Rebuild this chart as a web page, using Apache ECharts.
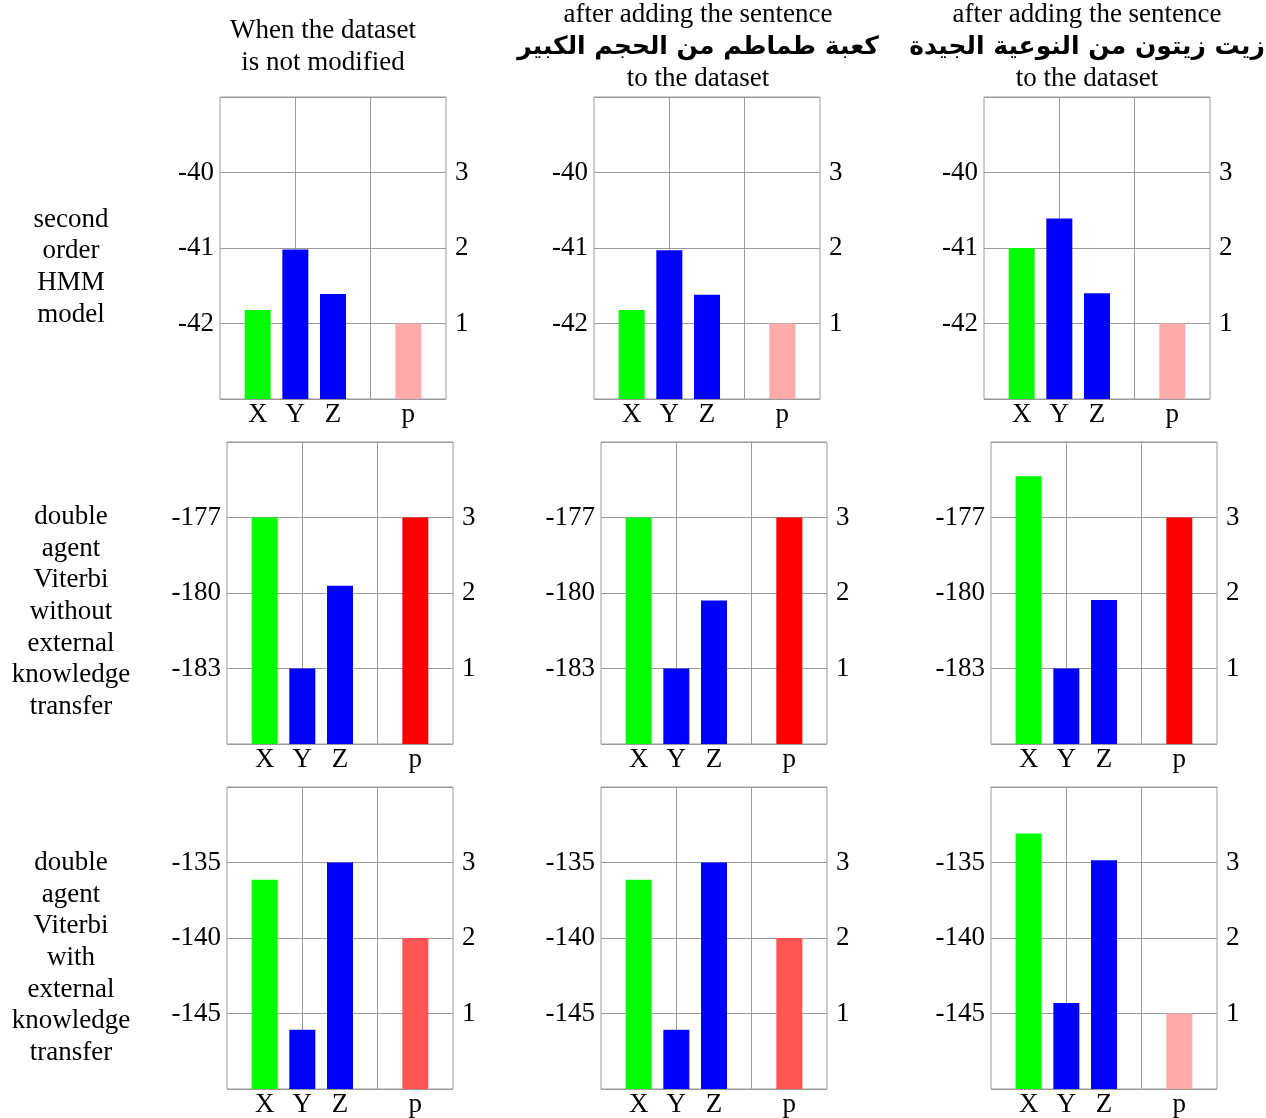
<!DOCTYPE html>
<html><head><meta charset="utf-8">
<script src="https://cdn.jsdelivr.net/npm/echarts@6/dist/echarts.min.js"></script>
<style>html,body{margin:0;padding:0;background:#fff}#c{width:1266px;height:1118px}</style>
</head><body><div id="c"></div>
<script>
// ---- data ----
const categories = ['', 'X', 'Y', 'Z', '', 'p', ''];
const columnTitlesTop = ['When the dataset', 'after adding the sentence', 'after adding the sentence'];
const columnTitlesArabic = ['', 'كعبة طماطم من الحجم الكبير', 'زيت زيتون من النوعية الجيدة'];
const columnTitlesBottom = ['is not modified', 'to the dataset', 'to the dataset'];
const rowLabels = [
  'second\norder\nHMM\nmodel',
  'double\nagent\nViterbi\nwithout\nexternal\nknowledge\ntransfer',
  'double\nagent\nViterbi\nwith\nexternal\nknowledge\ntransfer'
];
// scores [X, Y, Z] for each column
const hmmScores = [[-41.82, -41.02, -41.61], [-41.82, -41.03, -41.62], [-41.00, -40.61, -41.60]];
const hmmP = [1, 1, 1];
const viterbiScores = [[-177, -183, -179.71], [-177, -183, -180.30], [-175.36, -183, -180.28]];
const viterbiP = [3, 3, 3];
const transferScores = [[-136.15, -146.08, -135], [-136.15, -146.08, -135], [-133.08, -144.30, -134.85]];
const transferP = [2, 2, 1];
// axis ranges [min, max, step]
const scoreAxis = [[-43, -39, 1], [-186, -174, 3], [-150, -130, 5]];
const pAxis = [0, 4, 1];

// ---- styles / layout ----
const rowScores = [hmmScores, viterbiScores, transferScores];
const rowP = [hmmP, viterbiP, transferP];
const gridLefts = [[220, 594, 984], [227, 601, 991], [227, 601, 991]];
const gridTops = [97, 442, 787];
const GW = 226, GH = 302;
const FONT = 'Liberation Serif';
const FS = 27;
const GRID_COLOR = '#9a9a9a';
const barColors = {X: '#00ff00', Y: '#0000ff', Z: '#0000ff'};
const pColors = {1: '#ffaaaa', 2: '#ff5555', 3: '#ff0000'};
const titleCenters = [323, 698, 1087];

const grid = [], xAxis = [], yAxis = [], series = [], graphic = [];
for (let r = 0; r < 3; r++) {
  for (let c = 0; c < 3; c++) {
    const idx = r * 3 + c;
    const [mn, mx, st] = scoreAxis[r];
    grid.push({left: gridLefts[r][c], top: gridTops[r], width: GW, height: GH, show: true,
      borderColor: GRID_COLOR, borderWidth: 1, backgroundColor: 'transparent'});
    xAxis.push({type: 'category', gridIndex: idx, data: categories, boundaryGap: false,
      axisLine: {show: false}, axisTick: {show: false},
      axisLabel: {interval: 0, color: '#000', fontFamily: FONT, fontSize: FS, margin: 2},
      splitLine: {show: true, interval: (i) => i === 2 || i === 4, lineStyle: {color: GRID_COLOR, width: 1}}});
    yAxis.push({type: 'value', gridIndex: idx, position: 'left', min: mn, max: mx, interval: st, startValue: mn,
      axisLine: {show: false}, axisTick: {show: false},
      axisLabel: {showMinLabel: false, showMaxLabel: false, color: '#000', fontFamily: FONT, fontSize: FS, margin: 6, padding: [3, 0, 0, 0]},
      splitLine: {show: true, lineStyle: {color: GRID_COLOR, width: 1}}});
    yAxis.push({type: 'value', gridIndex: idx, position: 'right', min: pAxis[0], max: pAxis[1], interval: pAxis[2],
      axisLine: {show: false}, axisTick: {show: false},
      axisLabel: {showMinLabel: false, showMaxLabel: false, color: '#000', fontFamily: FONT, fontSize: FS, margin: 9, padding: [3, 0, 0, 0]},
      splitLine: {show: false}});
    const sc = rowScores[r][c];
    const scoreData = categories.map(k => {
      const j = ['X', 'Y', 'Z'].indexOf(k);
      return j < 0 ? '-' : {value: sc[j], itemStyle: {color: barColors[k]}};
    });
    const pv = rowP[r][c];
    const pData = categories.map(k => k === 'p' ? {value: pv, itemStyle: {color: pColors[pv]}} : '-');
    series.push({type: 'bar', xAxisIndex: idx, yAxisIndex: idx * 2, data: scoreData, barWidth: 26, barGap: '-100%', silent: true});
    series.push({type: 'bar', xAxisIndex: idx, yAxisIndex: idx * 2 + 1, data: pData, barWidth: 26, barGap: '-100%', silent: true});
  }
}

// column titles
for (let c = 0; c < 3; c++) {
  const text = columnTitlesArabic[c]
    ? '{a|' + columnTitlesTop[c] + '}\n{b|' + columnTitlesArabic[c] + '}\n{a|' + columnTitlesBottom[c] + '}'
    : '{a|' + columnTitlesTop[c] + '}\n{a|' + columnTitlesBottom[c] + '}';
  graphic.push({type: 'text', x: titleCenters[c], y: 47, silent: true,
    style: {text: text, align: 'center', verticalAlign: 'middle', fill: '#000',
      rich: {
        a: {fontFamily: FONT, fontSize: FS, lineHeight: 32, fill: '#000'},
        b: {fontFamily: 'DejaVu Sans', fontWeight: 'bold', fontSize: 25, lineHeight: 32, fill: '#000'}
      }}});
}
// row labels
const rowCenters = [267, 612, 958];
for (let r = 0; r < 3; r++) {
  graphic.push({type: 'text', x: 71, y: rowCenters[r], silent: true,
    style: {text: rowLabels[r], align: 'center', verticalAlign: 'middle', fill: '#000',
      fontFamily: FONT, fontSize: FS, lineHeight: 31.7}});
}

const chart = echarts.init(document.getElementById('c'), null, {renderer: 'canvas'});
chart.setOption({animation: false, backgroundColor: '#fff', grid, xAxis, yAxis, series, graphic});
</script></body></html>
